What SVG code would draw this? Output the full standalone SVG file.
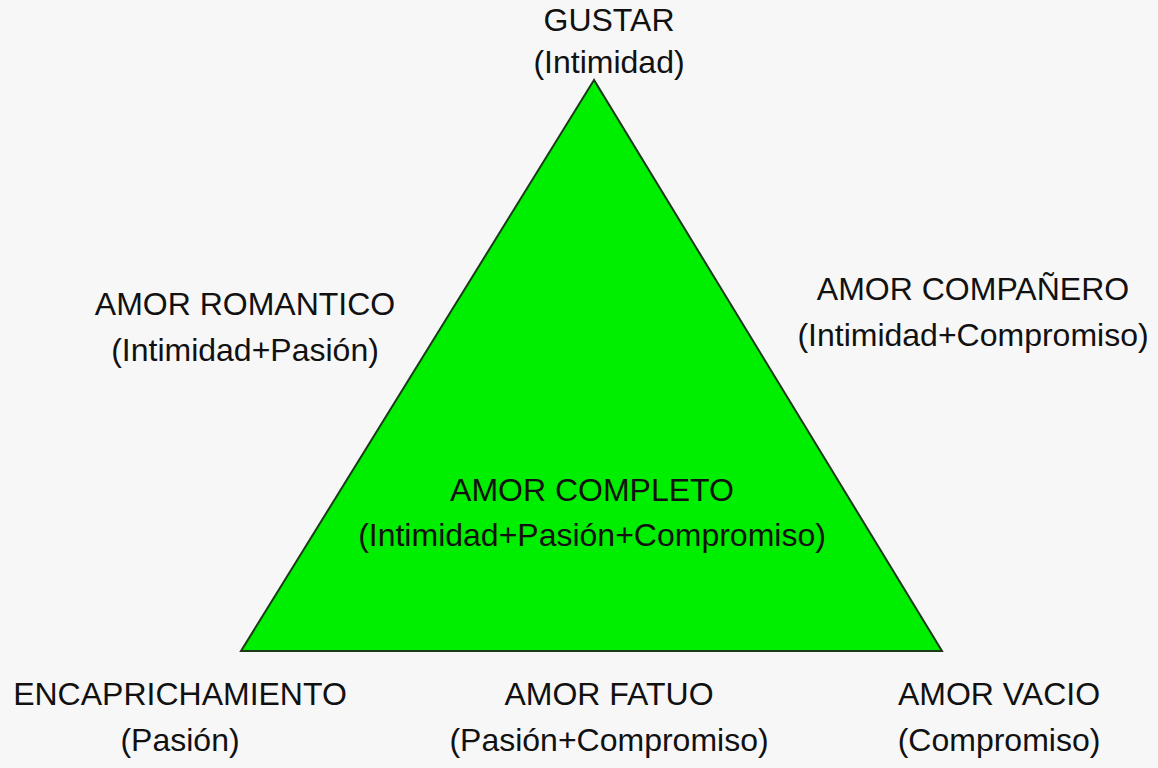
<svg xmlns="http://www.w3.org/2000/svg" width="1158" height="768" viewBox="0 0 1158 768">
<style>
text{font-family:"Liberation Sans",Arial,sans-serif;font-size:32px;fill:#111;text-anchor:middle}
</style>
<rect width="1158" height="768" fill="#f7f7f7"/>
<g id="triangle"><polygon points="594,80 241,651 942,651" fill="#00ee00" stroke="#1a3a1a" stroke-width="2"/></g>
<g id="connectors"></g>
<g id="gustar"><text x="609" y="31">GUSTAR</text><text x="609" y="73">(Intimidad)</text></g>
<g id="romantico"><text x="245" y="315">AMOR ROMANTICO</text><text x="245" y="361">(Intimidad+Pasión)</text></g>
<g id="companero"><text x="973" y="300">AMOR COMPAÑERO</text><text x="973" y="346">(Intimidad+Compromiso)</text></g>
<g id="completo"><text x="592" y="501">AMOR COMPLETO</text><text x="592" y="546">(Intimidad+Pasión+Compromiso)</text></g>
<g id="encaprichamiento"><text x="180" y="705">ENCAPRICHAMIENTO</text><text x="180" y="751">(Pasión)</text></g>
<g id="fatuo"><text x="609" y="705">AMOR FATUO</text><text x="609" y="751">(Pasión+Compromiso)</text></g>
<g id="vacio"><text x="999" y="705">AMOR VACIO</text><text x="999" y="751">(Compromiso)</text></g>
</svg>
